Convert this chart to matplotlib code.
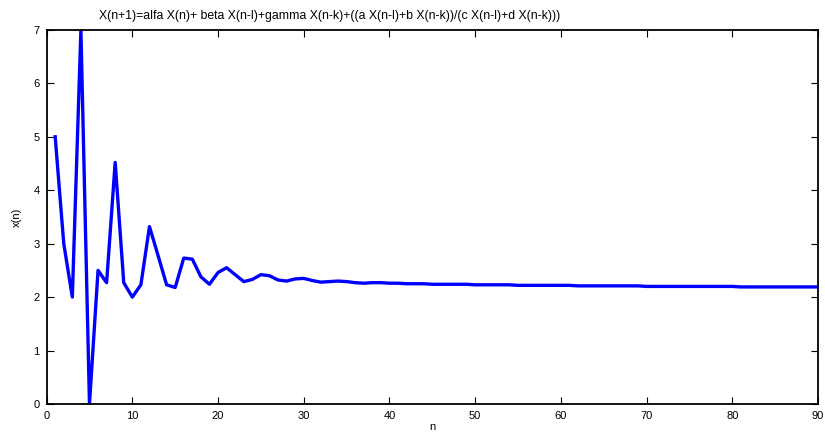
import matplotlib.pyplot as plt

plt.rcParams["font.family"] = ["Liberation Sans", "DejaVu Sans"]

# iteration index and value of the recurrence
n_values = list(range(1, 91))
x_values = [
    5.00, 3.00, 2.00, 7.00, 0.00, 2.50, 2.27, 4.52, 2.27, 2.00,
    2.23, 3.32, 2.78, 2.23, 2.18, 2.73, 2.71, 2.38, 2.24, 2.46,
    2.55, 2.42, 2.29, 2.33, 2.42, 2.40, 2.32, 2.30, 2.34, 2.35,
    2.31, 2.28, 2.29, 2.30, 2.29, 2.27, 2.26, 2.27, 2.27, 2.26,
    2.26, 2.25, 2.25, 2.25, 2.24, 2.24, 2.24, 2.24, 2.24, 2.23,
    2.23, 2.23, 2.23, 2.23, 2.22, 2.22, 2.22, 2.22, 2.22, 2.22,
    2.22, 2.21, 2.21, 2.21, 2.21, 2.21, 2.21, 2.21, 2.21, 2.20,
    2.20, 2.20, 2.20, 2.20, 2.20, 2.20, 2.20, 2.20, 2.20, 2.20,
    2.19, 2.19, 2.19, 2.19, 2.19, 2.19, 2.19, 2.19, 2.19, 2.19,
]

title = "X(n+1)=alfa X(n)+ beta X(n-l)+gamma X(n-k)+((a X(n-l)+b X(n-k))/(c X(n-l)+d X(n-k)))"

fig = plt.figure(figsize=(8.25, 4.33), dpi=100)
ax = fig.add_axes([0.0565, 0.067, 0.935, 0.864])

ax.plot(n_values, x_values, color="#0000ff", linewidth=2.4)

ax.set_xlim(0, 90)
ax.set_ylim(0, 7)
ax.set_xticks(range(0, 91, 10))
ax.set_yticks(range(0, 8))

ax.tick_params(direction="in", top=True, right=True, length=5, width=0.8,
               labelsize=8, pad=5)
for spine in ax.spines.values():
    spine.set_linewidth(1.3)

ax.set_xlabel("n", fontsize=8, labelpad=1)
ax.set_ylabel("x(n)", fontsize=8, labelpad=8)

# title sits left of the axes centre
fig.text(0.40, 0.963, title, fontsize=8.8, ha="center", va="center")

fig.savefig("out.png", dpi=100)
